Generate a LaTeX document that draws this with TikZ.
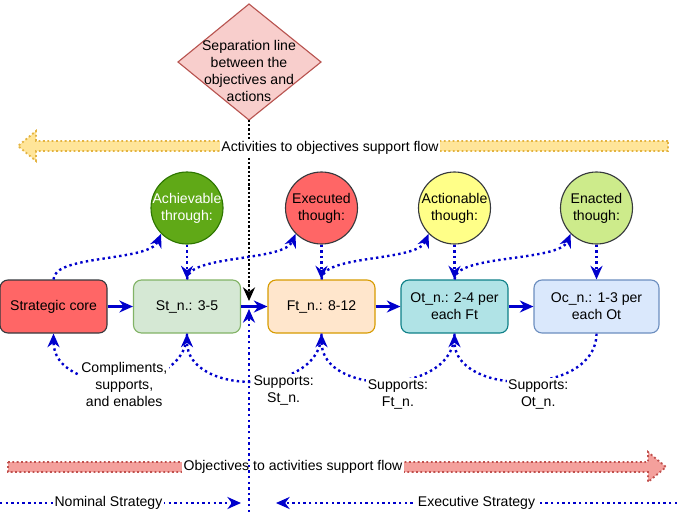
\documentclass[tikz,border=0pt]{standalone}
\usepackage{fontspec}
\setmainfont{Liberation Sans}
\usetikzlibrary{arrows.meta}
\definecolor{stcBlue}{HTML}{0000CC}
\definecolor{stcDark}{HTML}{36393D}
\definecolor{stcRed}{HTML}{FF6666}
\definecolor{stcGreen}{HTML}{60A917}
\definecolor{stcGreenLine}{HTML}{2D7600}
\definecolor{stcYellow}{HTML}{FFFF88}
\definecolor{stcLime}{HTML}{CDEB8B}
\definecolor{stcMint}{HTML}{D5E8D4}
\definecolor{stcMintLine}{HTML}{82B366}
\definecolor{stcPeach}{HTML}{FFE6CC}
\definecolor{stcPeachLine}{HTML}{D79B00}
\definecolor{stcTeal}{HTML}{B0E3E6}
\definecolor{stcTealLine}{HTML}{0E8088}
\definecolor{stcSky}{HTML}{DAE8FC}
\definecolor{stcSkyLine}{HTML}{6C8EBF}
\definecolor{stcRose}{HTML}{F8CECC}
\definecolor{stcRoseLine}{HTML}{B85450}
\definecolor{stcSand}{HTML}{FFE599}
\definecolor{stcSandLine}{HTML}{E3B341}
\definecolor{stcCoral}{HTML}{F4A09C}
\definecolor{stcCoralLine}{HTML}{C0504D}
\tikzset{
  stc tip/.style={-{Stealth[length=3.4mm,width=3mm,inset=1.1mm]}},
  stc box/.style={rectangle, rounded corners=2mm, line width=0.8pt, align=center,
    minimum width=26.75mm, minimum height=13.25mm, inner sep=1pt},
  stc circle/.style={circle, draw=stcDark, line width=0.8pt, align=center,
    minimum size=18mm, inner sep=-1pt},
  stc link/.style={stc tip, draw=stcBlue, line width=1.5pt},
  stc support/.style={stc tip, draw=stcBlue, line width=1.7pt, dash pattern=on 1.7pt off 2.3pt},
  stc split/.style={stc tip, draw=black, line width=1.6pt, dash pattern=on 1.6pt off 1.4pt},
  stc label/.style={align=center, inner sep=1pt},
  stc tag/.style={stc label, fill=white},
  stc band/.style={line width=1.3pt, dash pattern=on 1.3pt off 1.8pt},
}

\begin{document}
\begin{tikzpicture}[x=0.25mm, y=-0.25mm, font=\fontsize{10}{12}\selectfont]
  \useasboundingbox (0,0) rectangle (677,512);

  % Separation diamond
  \draw[fill=stcRose, draw=stcRoseLine, line width=0.8pt]
    (178,62) -- (249,4) -- (321,62) -- (249,120) -- cycle;
  \node[stc label] (sep) at (249,71) {Separation line\\between the\\objectives and\\actions};
  \coordinate (sepbot) at (249,120);
  \coordinate (sepend) at (249,301);
  \draw[stc split] (sepbot) -- (sepend);

  % Activities to objectives support flow
  \draw[stc band, fill=stcSand, draw=stcSandLine]
    (668,141) -- (36,141) -- (36,131) -- (18,146) -- (36,161) -- (36,151) -- (668,151) -- cycle;
  \node[stc tag] (actflow) at (330,148) {Activities to objectives support flow};

  % Boxes
  \node[stc box, fill=stcRed, draw=stcDark] (core) at (53.5,306.5) {Strategic core};
  \node[stc box, fill=stcMint, draw=stcMintLine] (st) at (187,306.5) {St\_n.: 3-5};
  \node[stc box, fill=stcPeach, draw=stcPeachLine] (ft) at (321.5,306.5) {Ft\_n.: 8-12};
  \node[stc box, fill=stcTeal, draw=stcTealLine] (ot) at (454.5,306.5) {Ot\_n.: 2-4 per\\each Ft};
  \node[stc box, fill=stcSky, draw=stcSkyLine, minimum width=31.25mm] (oc) at (596.5,306.5) {Oc\_n.: 1-3 per\\each Ot};

  % Circles
  \node[stc circle, fill=stcGreen, draw=stcGreenLine, text=white] (ach) at (187,208) {Achievable\\through:};
  \node[stc circle, fill=stcRed] (exe) at (321.5,208) {Executed\\though:};
  \node[stc circle, fill=stcYellow] (act) at (454.5,208) {Actionable\\though:};
  \node[stc circle, fill=stcLime] (ena) at (596.5,208) {Enacted\\though:};

  % Main chain
  \draw[stc link] (core) -- (st);
  \draw[stc link] (st) -- (ft);
  \draw[stc link] (ft) -- (ot);
  \draw[stc link] (ot) -- (oc);

  % Upper loops
  \draw[stc support] (ach) -- (st);
  \draw[stc support] (exe) -- (ft);
  \draw[stc support] (act) -- (ot);
  \draw[stc support] (ena) -- (oc);
  \draw[stc support] (core.north) .. controls +(0,-25) and +(-12,28) .. (ach.225);
  \draw[stc support] (st.north) .. controls +(0,-25) and +(-12,28) .. (exe.225);
  \draw[stc support] (ft.north) .. controls +(0,-25) and +(-12,28) .. (act.225);
  \draw[stc support] (ot.north) .. controls +(0,-25) and +(-12,28) .. (ena.225);

  % Lower loops
  \draw[stc support] (st.south) .. controls +(0,63) and +(0,63) .. (core.south)
    node[pos=0.48, stc tag, yshift=-1mm] {Compliments,\\supports,\\and enables};
  \draw[stc support] (ft.south) .. controls +(0,63) and +(0,63) .. (st.south)
    node[pos=0.35, stc tag, yshift=-3.5mm] {Supports:\\St\_n.};
  \draw[stc support] (ot.south) .. controls +(0,63) and +(0,63) .. (ft.south)
    node[pos=0.45, stc tag, yshift=-3.5mm] {Supports:\\Ft\_n.};
  \draw[stc support] (oc.south) .. controls +(0,63) and +(0,63) .. (ot.south)
    node[pos=0.44, stc tag, yshift=-3.5mm] {Supports:\\Ot\_n.};

  % Objectives to activities support flow
  \draw[stc band, fill=stcCoral, draw=stcCoralLine]
    (8,462) -- (648,462) -- (648,452) -- (666,467) -- (648,482) -- (648,472) -- (8,472) -- cycle;
  \node[stc tag] (objflow) at (293,467) {Objectives to activities support flow};

  % Divider and strategy spans
  \coordinate (divbot) at (249,512);
  \coordinate (divtop) at (249,309);
  \draw[stc support] (divbot) -- (divtop);
  \coordinate (nomleft) at (0,503);
  \coordinate (nomright) at (241,503);
  \draw[stc support] (nomleft) -- (nomright) node[pos=0.45, stc tag] {Nominal Strategy};
  \coordinate (exeright) at (677,503);
  \coordinate (exeleft) at (276,503);
  \draw[stc support] (exeright) -- (exeleft) node[pos=0.5, stc tag] {Executive Strategy};
\end{tikzpicture}
\end{document}
